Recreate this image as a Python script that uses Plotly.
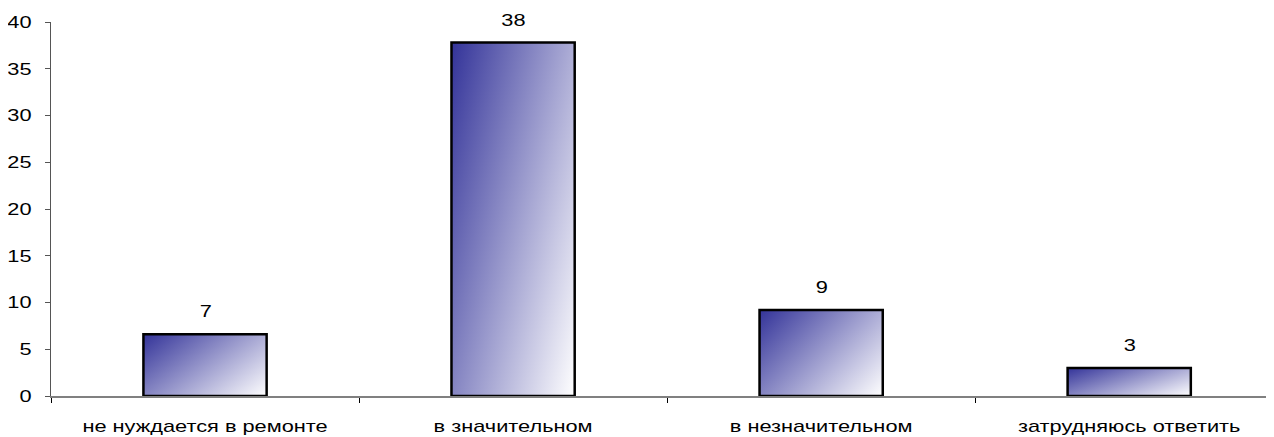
import plotly.graph_objects as go
import base64

categories = ["не нуждается в ремонте", "в значительном", "в незначительном", "затрудняюсь ответить"]
values = [6.6, 37.8, 9.2, 3.0]
y_tickvals = [0, 5, 10, 15, 20, 25, 30, 35, 40]

BAR_W = 0.4
FONT = "Liberation Sans, Arial, sans-serif"
FS = 17
TEXT_STRETCH = 1.28  # reference text is horizontally stretched

svg = ('<svg xmlns="http://www.w3.org/2000/svg" width="100" height="100" viewBox="0 0 100 100" '
       'preserveAspectRatio="none"><defs><linearGradient id="g" x1="0" y1="0" x2="1.154" y2="0.769">'
       '<stop offset="0" stop-color="#333399"/><stop offset="1" stop-color="#ffffff"/>'
       '</linearGradient></defs><rect x="0" y="0" width="100" height="100" fill="url(#g)"/></svg>')
src = "data:image/svg+xml;base64," + base64.b64encode(svg.encode()).decode()

fig = go.Figure()
fig.add_trace(go.Bar(
    x=categories, y=values, width=BAR_W,
    marker=dict(color="rgba(0,0,0,0)", line=dict(color="black", width=2.5)),
    hoverinfo="skip",
))

images = []
annotations = []
for i, v in enumerate(values):
    images.append(dict(source=src, xref="x", yref="y", x=i - BAR_W / 2, y=v,
                       sizex=BAR_W, sizey=v, xanchor="left", yanchor="top",
                       sizing="stretch", layer="below"))
    annotations.append(dict(x=categories[i], y=v, text=f"{v:.0f}", showarrow=False,
                            yanchor="bottom", yshift=11,
                            font=dict(family=FONT, size=FS, color="black")))

# page body has an 8px margin: compensate so the plot lands where the reference's does
fig.update_layout(
    width=1266, height=429,
    margin=dict(l=43, r=0, t=14, b=41),
    paper_bgcolor="white", plot_bgcolor="white",
    showlegend=False,
    images=images,
    annotations=annotations,
    font=dict(family=FONT, size=FS, color="black"),
)
fig.update_xaxes(
    type="category", range=[-0.5, 3.47],
    showline=True, linecolor="#808080", linewidth=2,
    ticks="outside", tickson="boundaries", ticklen=5, tickcolor="black", tickwidth=1,
    ticklabelstandoff=14,
    showgrid=False, zeroline=False,
    tickfont=dict(family=FONT, size=FS, color="black"),
)
fig.update_yaxes(
    range=[0, 40], tickvals=y_tickvals,
    showline=True, linecolor="#555555", linewidth=1,
    ticks="outside", ticklen=5, tickcolor="#555555",
    ticklabelstandoff=10,
    showgrid=False, zeroline=False,
    tickfont=dict(family=FONT, size=FS, color="black"),
)

post = """
var gd = document.getElementById('{plot_id}');
gd.querySelectorAll('svg text').forEach(function(t){
  try {
    var L = t.getComputedTextLength();
    if (L > 0) {
      t.setAttribute('textLength', (L * %s).toFixed(2));
      t.setAttribute('lengthAdjust', 'spacingAndGlyphs');
    }
  } catch (e) {}
});
""" % TEXT_STRETCH

fig.write_html("out.html", post_script=post)
